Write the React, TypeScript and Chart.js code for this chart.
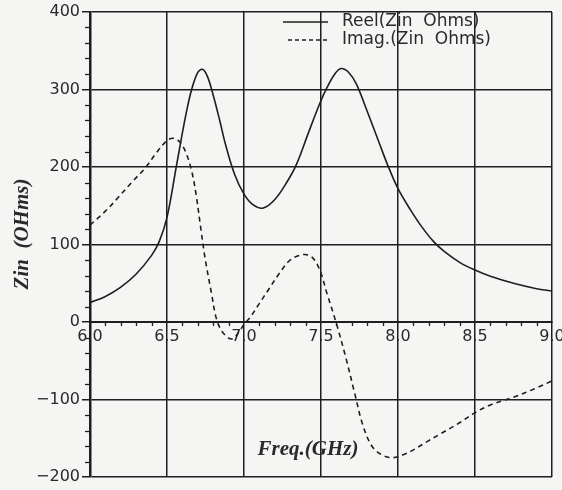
import React, { useEffect, useRef } from 'react';
import { Chart, registerables } from 'chart.js';

Chart.register(...registerables);

// ---- data ----
const FREQ_REAL = [6.0, 6.1, 6.2, 6.3, 6.4, 6.45, 6.5, 6.56, 6.62, 6.66, 6.7, 6.73, 6.76, 6.79, 6.84, 6.88, 6.94, 7.0, 7.06, 7.125, 7.2, 7.28, 7.34, 7.42, 7.49, 7.54, 7.59, 7.63, 7.68, 7.73, 7.8, 7.88, 7.93, 8.0, 8.08, 8.15, 8.23, 8.3, 8.4, 8.5, 8.6, 8.75, 8.9, 9.0];
const ZIN_REAL = [25, 33, 45, 62, 86, 104, 135, 200, 265, 300, 322, 326, 318, 300, 262, 229, 190, 165, 151, 147, 158, 181, 203, 245, 281, 303, 320, 327, 322, 307, 272, 230, 204, 172, 145, 124, 104, 91, 77, 67, 59, 50, 43, 40];

const FREQ_IMAG = [6.0, 6.1, 6.18, 6.27, 6.36, 6.43, 6.5, 6.54, 6.58, 6.62, 6.66, 6.69, 6.72, 6.75, 6.79, 6.82, 6.86, 6.92, 6.97, 7.0, 7.04, 7.1, 7.16, 7.22, 7.3, 7.385, 7.44, 7.49, 7.54, 7.6, 7.66, 7.72, 7.77, 7.83, 7.9, 7.97, 8.05, 8.1, 8.2, 8.27, 8.4, 8.5, 8.6, 8.75, 8.9, 9.0];
const ZIN_IMAG = [125, 143, 160, 180, 199, 218, 234, 237, 233, 220, 195, 163, 120, 79, 36, 5, -13, -22, -12, -3, 6, 24, 42, 60, 80, 87, 84, 68, 36, -2, -45, -93, -132, -160, -172, -175, -170, -165, -153, -145, -130, -117, -107, -97, -85, -76];

const X_TICKS = [6.0, 6.5, 7.0, 7.5, 8.0, 8.5, 9.0];
const Y_TICKS = [-200, -100, 0, 100, 200, 300, 400];
const SERIES_LABELS = ['Reel(Zin  Ohms)', 'Imag.(Zin  Ohms)'];
const X_TITLE = 'Freq.(GHz)';
const Y_TITLE = 'Zin  (OHms)';

const INK = '#1e1e1e';
const TEXT = '#2a2a2a';
const BG = '#f5f5f4';
const SANS = '"DejaVu Sans", sans-serif';
const SERIF_BI = 'italic bold 21px "Liberation Serif", "DejaVu Serif", serif';

const bgPlugin = {
  id: 'bg',
  beforeDraw(chart: any) {
    const { ctx, width, height } = chart;
    ctx.save();
    ctx.fillStyle = BG;
    ctx.fillRect(0, 0, width, height);
    ctx.restore();
  },
};

const minorTicks = {
  id: 'minorTicks',
  afterDraw(chart: any) {
    const { ctx } = chart;
    const xs = chart.scales.x;
    const ys = chart.scales.y;
    ctx.save();
    ctx.strokeStyle = INK;
    ctx.lineWidth = 1.3;
    const y0 = ys.getPixelForValue(0);
    for (let i = 0; i <= 30; i++) {
      if (i % 5 === 0) continue;
      const px = Math.round(xs.getPixelForValue(6 + i * 0.1)) + 0.5;
      ctx.beginPath();
      ctx.moveTo(px, y0);
      ctx.lineTo(px, y0 + 4);
      ctx.stroke();
    }
    const x0 = xs.left;
    for (let v = -200; v <= 400; v += 20) {
      if (v % 100 === 0) continue;
      const py = Math.round(ys.getPixelForValue(v)) + 0.5;
      ctx.beginPath();
      ctx.moveTo(x0 - 5, py);
      ctx.lineTo(x0, py);
      ctx.stroke();
    }
    ctx.restore();
  },
};

const annotations = {
  id: 'annotations',
  afterDraw(chart: any) {
    const { ctx } = chart;
    ctx.save();
    // legend
    ctx.strokeStyle = INK;
    ctx.lineWidth = 1.4;
    ctx.beginPath();
    ctx.moveTo(283, 22);
    ctx.lineTo(328, 22);
    ctx.stroke();
    ctx.setLineDash([4, 3]);
    ctx.beginPath();
    ctx.moveTo(288, 40);
    ctx.lineTo(328, 40);
    ctx.stroke();
    ctx.setLineDash([]);
    ctx.fillStyle = TEXT;
    ctx.font = '17px ' + SANS;
    ctx.textAlign = 'left';
    ctx.textBaseline = 'middle';
    ctx.fillText(SERIES_LABELS[0], 342, 22);
    ctx.fillText(SERIES_LABELS[1], 342, 40);
    // axis titles
    ctx.font = SERIF_BI;
    ctx.textAlign = 'center';
    ctx.fillText(X_TITLE, 308, 450);
    ctx.translate(23, 234);
    ctx.rotate(-Math.PI / 2);
    ctx.fillText(Y_TITLE, 0, 0);
    ctx.restore();
  },
};

export default function App() {
  const ref = useRef<HTMLCanvasElement | null>(null);
  useEffect(() => {
    if (!ref.current) return;
    const chart = new Chart(ref.current, {
      type: 'line',
      data: {
        datasets: [
          {
            label: SERIES_LABELS[0],
            data: FREQ_REAL.map((f, i) => ({ x: f, y: ZIN_REAL[i] })),
            borderColor: INK,
            borderWidth: 1.6,
            pointRadius: 0,
            tension: 0.35,
            fill: false,
          },
          {
            label: SERIES_LABELS[1],
            data: FREQ_IMAG.map((f, i) => ({ x: f, y: ZIN_IMAG[i] })),
            borderColor: INK,
            borderWidth: 1.6,
            borderDash: [5, 4],
            pointRadius: 0,
            tension: 0.35,
            fill: false,
          },
        ],
      },
      options: {
        animation: false,
        responsive: false,
        layout: { padding: { left: 0, top: 12, right: 10, bottom: 13 } },
        plugins: { legend: { display: false }, tooltip: { enabled: false } },
        scales: {
          x: {
            type: 'linear',
            min: 6,
            max: 9,
            position: { y: 0 },
            afterBuildTicks: (s: any) => {
              s.ticks = X_TICKS.map((v) => ({ value: v }));
            },
            afterFit: (s: any) => {
              s.paddingLeft = 0;
              s.paddingRight = 0;
            },
            grid: { color: INK, lineWidth: 1.5, drawTicks: false },
            border: { display: true, color: INK, width: 2 },
            ticks: {
              padding: 5,
              color: TEXT,
              font: { family: SANS, size: 16 },
              maxRotation: 0,
              autoSkip: false,
              callback: (v: any) => Number(v).toFixed(1),
            },
          },
          y: {
            type: 'linear',
            min: -200,
            max: 400,
            position: 'left',
            afterBuildTicks: (s: any) => {
              s.ticks = Y_TICKS.map((v) => ({ value: v }));
            },
            afterFit: (s: any) => {
              s.width = 90;
              s.paddingTop = 0;
              s.paddingBottom = 0;
            },
            grid: { color: INK, lineWidth: 1.5, drawTicks: true, tickLength: 8 },
            border: { display: true, color: INK, width: 2.5 },
            ticks: {
              padding: 2,
              color: TEXT,
              font: { family: SANS, size: 16 },
              autoSkip: false,
              callback: (v: any) => (Number(v) < 0 ? '\u2212' + Math.abs(Number(v)) : String(v)),
            },
          },
        },
      } as any,
      plugins: [bgPlugin, minorTicks, annotations],
    });
    return () => chart.destroy();
  }, []);
  return (
    <div style={{ position: 'absolute', left: 0, top: 0, width: 562, height: 490 }}>
      <canvas ref={ref} width={562} height={490} style={{ display: 'block' }} />
    </div>
  );
}
